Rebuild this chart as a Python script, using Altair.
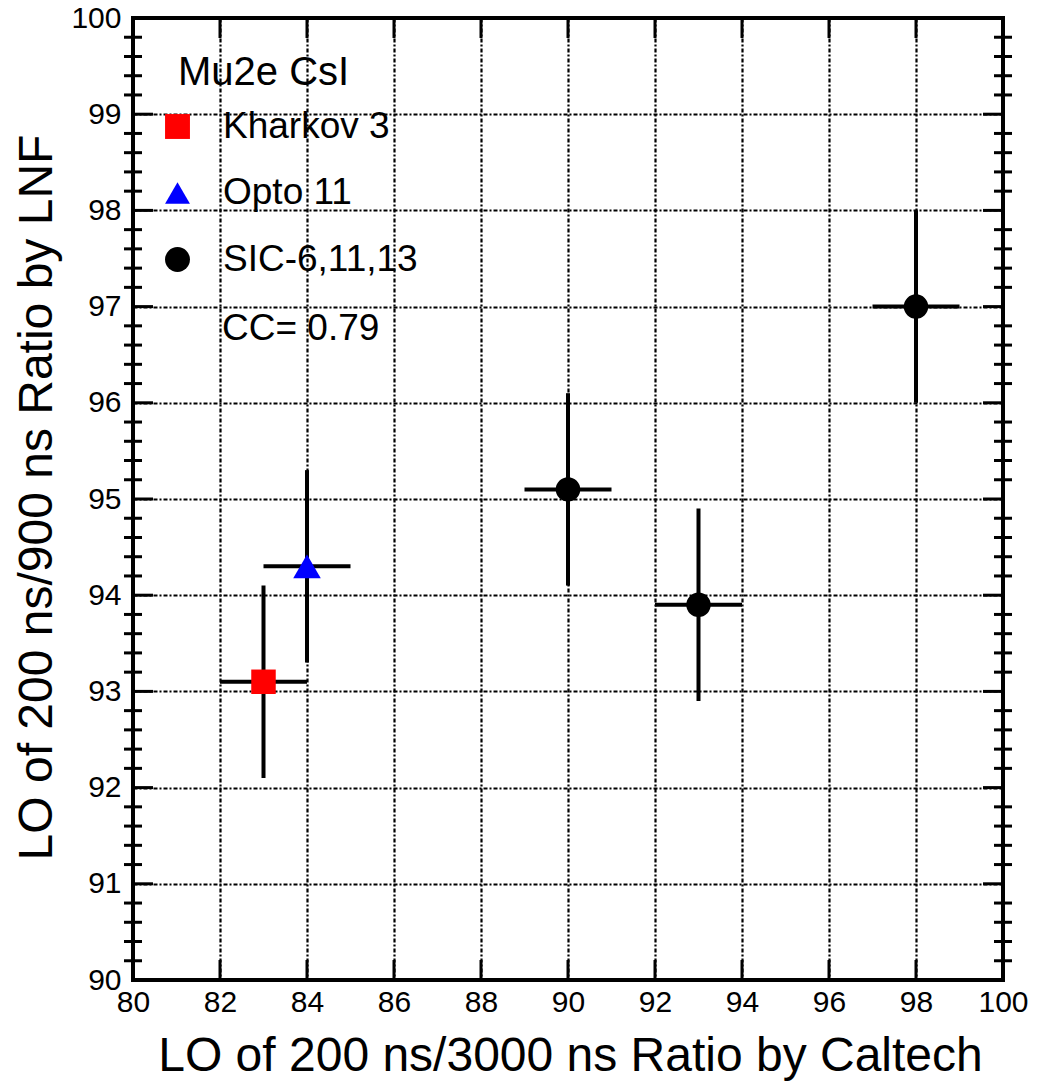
import altair as alt
import pandas as pd

# ---------------- data ----------------
groups = ["Kharkov 3", "Opto 11", "SIC-6,11,13", "SIC-6,11,13", "SIC-6,11,13"]
x_caltech = [83, 84, 90, 93, 98]
y_lnf = [93.1, 94.3, 95.1, 93.9, 97.0]
x_err = [1, 1, 1, 1, 1]
y_err = [1, 1, 1, 1, 1]

legend_names = ["Kharkov 3", "Opto 11", "SIC-6,11,13"]
legend_colors = ["#ff0000", "#0000ff", "#000000"]
legend_shapes = ["square", "triangle-up", "circle"]

x_ticks = [80, 82, 84, 86, 88, 90, 92, 94, 96, 98, 100]
y_ticks = [90, 91, 92, 93, 94, 95, 96, 97, 98, 99, 100]
y_minor = [round(90 + 0.2 * i, 1) for i in range(51) if i % 5 != 0]

legend_title = ["Mu2e CsI"]
cc_text = ["CC= 0.79"]

x_title = "LO of 200 ns/3000 ns Ratio by Caltech"
y_title = "LO of 200 ns/900 ns Ratio by LNF"

# ---------------- layout ----------------
W, H = 870, 962
FONT = "Liberation Sans"
LBL = 30

df = pd.DataFrame({"group": groups, "x": x_caltech, "y": y_lnf,
                   "xe": x_err, "ye": y_err})
df["x_lo"] = df["x"] - df["xe"]
df["x_hi"] = df["x"] + df["xe"]
df["y_lo"] = df["y"] - df["ye"]
df["y_hi"] = df["y"] + df["ye"]

xs = alt.Scale(domain=[80, 100], nice=False, zero=False)
ys = alt.Scale(domain=[90, 100], nice=False, zero=False)

grid_dash = [4, 2, 2, 2]

xaxis = alt.Axis(values=x_ticks, title=x_title, grid=True, gridColor="black",
                 gridDash=grid_dash, gridWidth=2.2, gridOpacity=1,
                 domain=False, ticks=False, tickSize=0,
                 labelFont=FONT, labelFontSize=LBL, labelColor="black",
                 labelPadding=7, labelFlush=False, labelOverlap=False,
                 titleFont=FONT, titleFontSize=48, titleFontWeight="normal",
                 titleColor="black", titleX=437, titleY=90,
                 titleBaseline="alphabetic", titleAlign="center", format="d")
yaxis = alt.Axis(values=y_ticks, title=y_title, grid=True, gridColor="black",
                 gridDash=grid_dash, gridWidth=2.2, gridOpacity=1,
                 domain=False, ticks=False, tickSize=0,
                 labelFont=FONT, labelFontSize=LBL, labelColor="black",
                 labelPadding=12, labelFlush=False, labelOverlap=False,
                 titleFont=FONT, titleFontSize=48, titleFontWeight="normal",
                 titleColor="black", titleX=-82, titleY=479, titleAngle=270,
                 titleBaseline="alphabetic", titleAlign="center", format="d")

X = lambda f: alt.X(f, type="quantitative", scale=xs, axis=xaxis)
Y = lambda f: alt.Y(f, type="quantitative", scale=ys, axis=yaxis)

base = alt.Chart(df)

xbars = base.mark_rule(color="black", strokeWidth=4).encode(
    x=X("x_lo"), x2="x_hi", y=Y("y"))
ybars = base.mark_rule(color="black", strokeWidth=4).encode(
    x=X("x"), y=Y("y_lo"), y2="y_hi")

points = base.mark_point(filled=True, opacity=1).encode(
    x=X("x"), y=Y("y"),
    size=alt.condition(alt.datum.group == "Opto 11", alt.value(760), alt.value(600)),
    color=alt.Color("group:N",
                    scale=alt.Scale(domain=legend_names, range=legend_colors),
                    legend=alt.Legend(orient="none", legendX=26, legendY=90,
                                      title=None, labelFont=FONT,
                                      labelFontSize=37, labelColor="black",
                                      labelLimit=500,
                                      symbolSize=620, symbolStrokeWidth=0,
                                      labelOffset=27, rowPadding=28.5,
                                      padding=0)),
    shape=alt.Shape("group:N",
                    scale=alt.Scale(domain=legend_names, range=legend_shapes)),
)

# inward tick marks (major on all sides, minor on left/right)
xt = alt.Chart(pd.DataFrame({"x": x_ticks}))
yt = alt.Chart(pd.DataFrame({"y": y_ticks}))
ym = alt.Chart(pd.DataFrame({"y": y_minor}))

tick_bottom = xt.mark_tick(orient="vertical", size=20, thickness=3, color="black",
                           opacity=1).encode(x=X("x"), y=alt.value(H - 10))
tick_top = xt.mark_tick(orient="vertical", size=20, thickness=3, color="black",
                        opacity=1).encode(x=X("x"), y=alt.value(10))
tick_left = yt.mark_tick(orient="horizontal", size=20, thickness=3, color="black",
                         opacity=1).encode(y=Y("y"), x=alt.value(10))
tick_right = yt.mark_tick(orient="horizontal", size=20, thickness=3, color="black",
                          opacity=1).encode(y=Y("y"), x=alt.value(W - 10))
minor_left = ym.mark_tick(orient="horizontal", size=18, thickness=3, color="black",
                          opacity=1).encode(y=Y("y"), x=alt.value(0))
minor_right = ym.mark_tick(orient="horizontal", size=18, thickness=3, color="black",
                           opacity=1).encode(y=Y("y"), x=alt.value(W))

title_txt = alt.Chart(pd.DataFrame({"t": legend_title})).mark_text(
    font=FONT, fontSize=40, align="left", baseline="alphabetic", color="black"
).encode(text="t:N", x=alt.value(45), y=alt.value(67))
cc_txt = alt.Chart(pd.DataFrame({"t": cc_text})).mark_text(
    font=FONT, fontSize=37, align="left", baseline="alphabetic", color="black"
).encode(text="t:N", x=alt.value(89), y=alt.value(322))

chart = alt.layer(
    tick_bottom, tick_top, tick_left, tick_right, minor_left, minor_right,
    xbars, ybars, points, title_txt, cc_txt
).properties(
    width=W, height=H,
    autosize=alt.AutoSizeParams(type="none"),
    padding={"left": 133, "top": 18, "right": 38, "bottom": 101},
    background="white",
).configure_view(
    stroke="black", strokeWidth=4, fill="white"
).configure_axis(
    labelFont=FONT, labelFontSize=LBL, labelColor="black"
)

chart.save("out.html", embed_options={"renderer": "svg", "actions": False})
